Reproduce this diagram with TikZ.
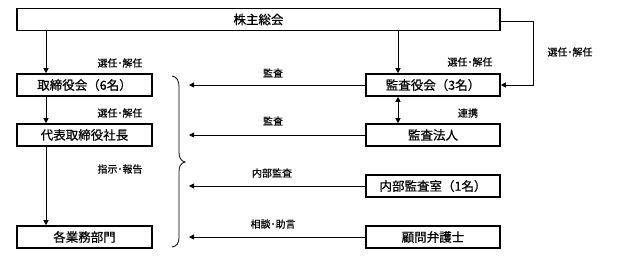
\documentclass[tikz,border=0pt]{standalone}
\usepackage{fontspec}
\newfontfamily\jp{Noto Sans CJK JP}[FakeBold=0.6]
\newfontfamily\jpl{Noto Sans CJK JP}[FakeBold=0.4]
\usetikzlibrary{arrows.meta}
\begin{document}
\begin{tikzpicture}[x=1pt,y=-1pt,
  box/.style={draw, line width=1.6pt, minimum height=22pt, inner sep=0pt,
    font=\jp\fontsize{12.5}{13}\selectfont},
  lbl/.style={font=\jpl\fontsize{10}{10}\selectfont, inner sep=0pt},
  conn/.style={line width=0.8pt, -{Triangle[length=5pt,width=5pt]}},
  dconn/.style={line width=0.8pt, {Triangle[length=5pt,width=5pt]}-{Triangle[length=5pt,width=5pt]}}]
\useasboundingbox (0,0) rectangle (625,256);
% boxes
\node[box, minimum width=483pt] (top) at (258.5,19.5) {株主総会};
\node[box, minimum width=135pt] (tori) at (84.5,85) {取締役会（6名）};
\node[box, minimum width=135pt] (daihyo) at (84.5,135) {代表取締役社長};
\node[box, minimum width=135pt] (gyomu) at (84.5,237) {各業務部門};
\node[box, minimum width=134pt] (kansayaku) at (433,85) {監査役会（3名）};
\node[box, minimum width=134pt] (hojin) at (433,135) {監査法人};
\node[box, minimum width=134pt] (naibu) at (433,186) {内部監査室（1名）};
\node[box, minimum width=134pt] (komon) at (433,237) {顧問弁護士};
% reference columns
\coordinate (L) at (46,0);
\coordinate (R) at (398,0);
\coordinate (A) at (189,0);
\coordinate (O) at (533,0);
% vertical connectors
\draw[conn] (top.south -| L) -- (tori.north -| L);
\draw[conn] (tori.south -| L) -- (daihyo.north -| L);
\draw[conn] (daihyo.south -| L) -- (gyomu.north -| L);
\draw[conn] (top.south -| R) -- (kansayaku.north -| R);
\draw[dconn] (kansayaku.south -| R) -- (hojin.north -| R);
\draw[conn] ([yshift=-1.5pt]top.east) -- ([yshift=-1.5pt]top.east -| O) |- (kansayaku.east);
% horizontal connectors
\draw[conn] (kansayaku.west) -- (kansayaku.west -| A);
\draw[conn] (hojin.west) -- (hojin.west -| A);
\draw[conn] (naibu.west) -- (naibu.west -| A);
\draw[conn] (komon.west) -- (komon.west -| A);
% brace
\draw[line width=0.8pt] (172,76) .. controls (177,77) and (179,80) .. (179,88)
  -- (179,152) .. controls (179,158) and (181,161) .. (185,162)
  .. controls (181,163) and (179,166) .. (179,172)
  -- (179,236) .. controls (179,244) and (177,246) .. (172,247);
% labels
\node[lbl] (l1) at (120,63) {選任･解任};
\node[lbl] (l2) at (120,113) {選任･解任};
\node[lbl] (l3) at (120,169) {指示･報告};
\node[lbl] (l4) at (470,62) {選任･解任};
\node[lbl] (l5) at (468,113) {連携};
\node[lbl] (l6) at (570,52) {選任･解任};
\node[lbl] (l7) at (273,73) {監査};
\node[lbl] (l8) at (273,121) {監査};
\node[lbl] (l9) at (272,173) {内部監査};
\node[lbl] (l10) at (273,224) {相談･助言};
\end{tikzpicture}
\end{document}
